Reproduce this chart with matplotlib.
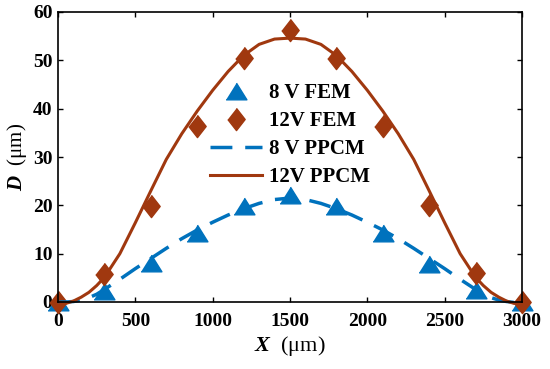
import matplotlib
matplotlib.use("Agg")
import matplotlib.pyplot as plt

plt.rcParams["font.family"] = ["Liberation Serif", "DejaVu Serif"]
plt.rcParams["mathtext.fontset"] = "custom"
plt.rcParams["mathtext.it"] = "Liberation Serif:italic:bold"
plt.rcParams["mathtext.rm"] = "Liberation Serif"

BLUE = "#0072BD"
BROWN = "#A0380F"

# FEM sample points
fem_x = [0, 300, 600, 900, 1200, 1500, 1800, 2100, 2400, 2700, 3000]
fem_8v = [0, 2.2, 8.0, 14.3, 19.8, 22.1, 19.8, 14.3, 7.9, 2.4, 0]
fem_12v = [0, 5.8, 19.8, 36.4, 50.5, 56.2, 50.5, 36.5, 20.0, 5.9, 0]

# PPCM curves
ppcm_x = [0, 50, 100, 150, 200, 250, 300, 400, 500, 600, 700, 800, 900,
          1000, 1100, 1200, 1300, 1400, 1500, 1600, 1700, 1800, 1900, 2000,
          2100, 2200, 2300, 2400, 2500, 2600, 2700, 2750, 2800, 2850, 2900,
          2950, 3000]
ppcm_8v = [0, 0, 0.1, 0.4, 0.9, 1.6, 2.6, 4.7, 6.9, 9.0, 11.1, 13.1, 14.9,
           16.5, 18.0, 19.3, 20.4, 21.2, 21.5, 21.2, 20.4, 19.3, 18.0, 16.5,
           14.9, 13.1, 11.1, 9.0, 6.9, 4.7, 2.6, 1.6, 0.9, 0.4, 0.1, -0.1, 0]
ppcm_12v = [0, -0.3, 0.2, 1.0, 2.0, 3.4, 5.1, 10.0, 16.4, 23.0, 29.5, 34.8,
            39.5, 43.8, 47.7, 51.0, 53.3, 54.4, 54.6, 54.4, 53.3, 51.0, 47.7,
            43.8, 39.5, 34.8, 29.5, 23.0, 16.4, 10.0, 5.1, 3.4, 2.0, 1.0, 0.2,
            -0.3, 0]

labels = ["8 V FEM", "12V FEM", "8 V PPCM", "12V PPCM"]

tri = [(-1, -0.8), (1, -0.8), (0, 0.8)]
dia = [(0, 1), (0.78, 0), (0, -1), (-0.78, 0)]

fig = plt.figure(figsize=(5.5, 3.69), dpi=100)
ax = fig.add_axes([58 / 550, 67 / 369, 464 / 550, 290 / 369])

ax.plot(fem_x, fem_8v, linestyle="none", marker=tri, markersize=15,
        color=BLUE, label=labels[0], clip_on=False)
ax.plot(fem_x, fem_12v, linestyle="none", marker=dia, markersize=16,
        color=BROWN, label=labels[1], clip_on=False)
ax.plot(ppcm_x, ppcm_8v, linestyle=(0, (6.3, 3.7)), linewidth=2.5,
        color=BLUE, label=labels[2], clip_on=False)
ax.plot(ppcm_x, ppcm_12v, linestyle="-", linewidth=2.2,
        color=BROWN, label=labels[3], clip_on=False)

ax.set_xlim(0, 3000)
ax.set_ylim(0, 60)
ax.set_xticks(range(0, 3001, 500))
ax.set_yticks(range(0, 61, 10))
ax.tick_params(direction="in", top=True, right=True, length=3.6, width=1,
               labelsize=14)
ax.tick_params(axis="x", pad=8)
ax.tick_params(axis="y", pad=4)
for lab in ax.get_xticklabels() + ax.get_yticklabels():
    lab.set_fontweight("bold")
for sp in ax.spines.values():
    sp.set_linewidth(1.2)

ax.set_xlabel(r"$X$  (μm)", fontsize=16, labelpad=3)
ax.set_ylabel(r"$D$  (μm)", fontsize=15, labelpad=3)

leg = ax.legend(loc="upper left", bbox_to_anchor=(0.328, 0.755),
                frameon=False, borderpad=0, borderaxespad=0,
                handlelength=2.5, handletextpad=0.3, labelspacing=0.38,
                numpoints=1, prop={"weight": "bold", "size": 15})

fig.savefig("out.png", dpi=100)
